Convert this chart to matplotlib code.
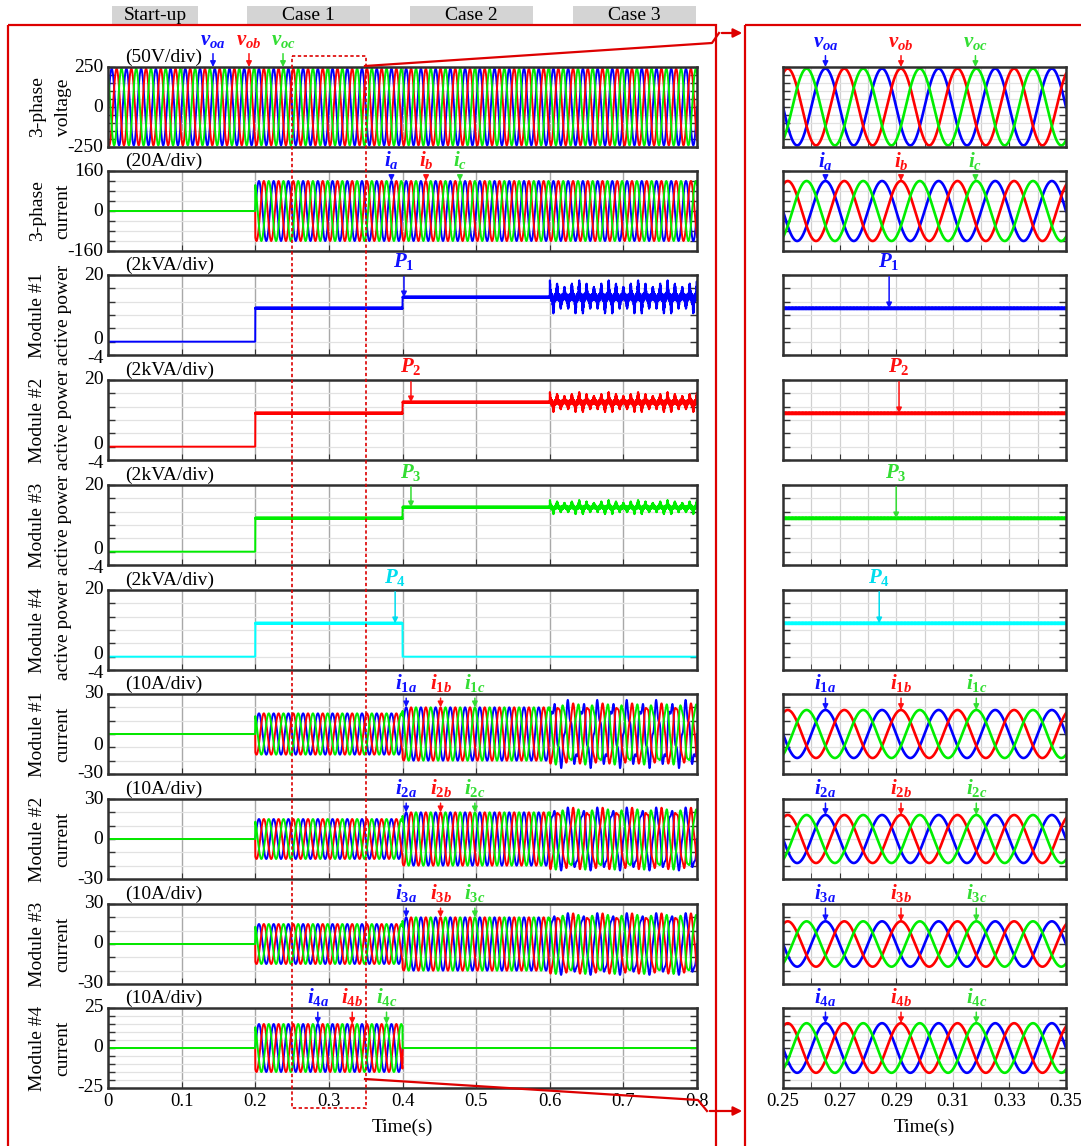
import numpy as np
import matplotlib
matplotlib.use('Agg')
import matplotlib.pyplot as plt
import matplotlib.transforms as mtransforms
from matplotlib.patches import Rectangle, FancyArrowPatch
from matplotlib.lines import Line2D

plt.rcParams['font.family'] = 'Liberation Serif'
plt.rcParams['mathtext.fontset'] = 'custom'
plt.rcParams['mathtext.it'] = 'Liberation Serif:italic:bold'
plt.rcParams['mathtext.rm'] = 'Liberation Serif:bold'
plt.rcParams['mathtext.bf'] = 'Liberation Serif:bold'
plt.rcParams['axes.unicode_minus'] = False

W, H = 1081, 1146

# ---- values ----
f_grid = 50.0                          # Hz
v_amp = 240.0                          # output phase voltage peak (V)
i_grid_amp = 120.0                     # 3-phase current peak after 0.2 s (A)
case_edges = [0.0, 0.2, 0.4, 0.6, 0.8]  # start-up, case 1, case 2, case 3
case_names = ['Start-up', 'Case 1', 'Case 2', 'Case 3']

# module active power (kVA) per interval
p_levels = [[0, 10, 13.3, 13.3],
            [0, 10, 13.3, 13.3],
            [0, 10, 13.3, 13.3],
            [0, 10, 0, 0]]
p_osc_case3 = [2.2, 1.3, 0.9, 0.0]     # 100 Hz oscillation in case 3
p_sw_ripple = [0.22, 0.22, 0.22, 0.2]  # switching ripple
p_sw_case3 = [0.9, 0.6, 0.45, 0.0]     # wider band in case 3
f_sw = 2000.0

# module current peak (A) per interval
i_mod_amp = [[0, 15.5, 20, 21],
             [0, 15, 20, 21],
             [0, 15, 20, 21],
             [0, 15, 0, 0]]
i_mod_dist = [[5, 2, 2], [3, 2.5, 2], [2.5, 2, 1.5], [0, 0, 0]]  # case 3 distortion a,b,c
f_dist = 175.0
i_zoom_amp = [18, 18, 17, 15.5]        # module current peaks in the zoomed window

panel_titles = [('3-phase', 'voltage'), ('3-phase', 'current'),
                ('Module #1', 'active power'), ('Module #2', 'active power'),
                ('Module #3', 'active power'), ('Module #4', 'active power'),
                ('Module #1', 'current'), ('Module #2', 'current'),
                ('Module #3', 'current'), ('Module #4', 'current')]
panel_scale = ['(50V/div)', '(20A/div)'] + ['(2kVA/div)'] * 4 + ['(10A/div)'] * 4
ylims = [(-250, 250), (-160, 160)] + [(-4, 20)] * 4 + [(-30, 30)] * 3 + [(-25, 25)]
ystep = [50, 40, 4, 4, 4, 4, 10, 10, 10, 5]
ylab_pos = [[250, 0, -250], [160, 0, -160]] + [[20, 0.7, -5.0]] * 4 + \
           [[30, -9, -30], [30, 0, -30], [30, 0, -30], [25, 0, -25]]
ylab_txt = [['250', '0', '-250'], ['160', '0', '-160']] + [['20', '0', '-4']] * 4 + \
           [['30', '0', '-30']] * 3 + [['25', '0', '-25']]
xt_left = [0, 0.1, 0.2, 0.3, 0.4, 0.5, 0.6, 0.7, 0.8]
xt_left_txt = ['0', '0.1', '0.2', '0.3', '0.4', '0.5', '0.6', '0.7', '0.8']
xt_right = [0.25, 0.27, 0.29, 0.31, 0.33, 0.35]
xt_right_txt = ['0.25', '0.27', '0.29', '0.31', '0.33', '0.35']

# label positions (time of arrow tip)
v_mark_l = [0.1426, 0.1915, 0.2377]
v_mark_r = [0.265, 0.2917, 0.318]
i_mark_l = [0.385, 0.432, 0.478]
i_mark_r = [0.265, 0.2917, 0.318]
p_mark_l = [0.402, 0.4115, 0.4115, 0.390]
p_mark_r = [0.2875, 0.291, 0.290, 0.284]
im_mark_l = [[0.405, 0.4517, 0.4983]] * 3 + [[0.285, 0.3317, 0.3783]]
im_mark_r = [0.265, 0.2917, 0.3183]

# ---- style ----
BLUE, RED, GREEN, CYAN = '#0000ff', '#ff0000', '#00ee00', '#00ffff'
LBL = ['#1010ff', '#ff1010', '#33dd33', '#00ddee']
FRAME_RED = '#dd0000'
panel_top = [67, 171, 275, 380, 485, 590, 694, 799, 904, 1008]
PH = 80

w = 2 * np.pi * f_grid
phase_shift = [0, -2 * np.pi / 3, 2 * np.pi / 3]


def interval_value(levels, tt):
    idx = np.clip(np.searchsorted(case_edges, tt, side='right') - 1, 0, len(levels) - 1)
    return np.asarray(levels, dtype=float)[idx]


def three_phase(amp, tt, dist=None):
    out = []
    for k, s in enumerate(phase_shift):
        y = amp * np.sin(w * tt + s)
        if dist is not None:
            y = y + (tt >= case_edges[3]) * dist[k] * np.sin(2 * np.pi * f_dist * tt + s)
        out.append(y)
    return out


def module_power(m, tt):
    lvl = interval_value(p_levels[m], tt)
    c3 = tt >= case_edges[3]
    band = np.where(c3, p_sw_case3[m], p_sw_ripple[m]) * (lvl > 0)
    sw = band * np.sin(2 * np.pi * f_sw * tt)
    osc = c3 * p_osc_case3[m] * (np.cos(2 * np.pi * 100 * tt) + 0.5 * np.cos(2 * np.pi * 300 * tt)) \
        * (1 + 0.3 * np.cos(2 * np.pi * 25 * tt))
    return lvl + sw + osc


def series(k, tt, zoom):
    if k == 0:
        return list(zip(three_phase(v_amp, tt), [BLUE, RED, GREEN]))
    if k == 1:
        return list(zip(three_phase(i_grid_amp * (tt >= 0.2), tt), [BLUE, RED, GREEN]))
    if k < 6:
        m = k - 2
        return [(module_power(m, tt), [BLUE, RED, GREEN, CYAN][m])]
    m = k - 6
    amp = i_zoom_amp[m] if zoom else interval_value(i_mod_amp[m], tt)
    return list(zip(three_phase(amp, tt, i_mod_dist[m]), [BLUE, RED, GREEN]))


def mark(ax, text, t0, y0, dy, color):
    ax.annotate(text, xy=(t0, y0), xycoords='data',
                xytext=(t0, 1 + dy / PH), textcoords=('data', 'axes fraction'),
                ha='center', va='center', fontsize=15, color=color, zorder=10,
                arrowprops=dict(arrowstyle='-|>', color=color, lw=1.1,
                                mutation_scale=8, shrinkA=1, shrinkB=0),
                annotation_clip=False)


fig = plt.figure(figsize=(W / 100, H / 100), dpi=100)
px = mtransforms.Affine2D().scale(1 / W, -1 / H).translate(0, 1) + fig.transFigure


def axes_px(x0, y0, wd, ht):
    return fig.add_axes([x0 / W, 1 - (y0 + ht) / H, wd / W, ht / H])


t = np.linspace(0, 0.8, 16001)
tz = np.linspace(0.25, 0.35, 2001)
left_axes, right_axes = [], []

for k in range(10):
    axl = axes_px(108, panel_top[k], 589, PH)
    axr = axes_px(783, panel_top[k], 283, PH)
    for ax, tt, zoom in [(axl, t, False), (axr, tz, True)]:
        for y, c in series(k, tt, zoom):
            ax.plot(tt, y, color=c, lw=1.4 if not zoom else 1.9)
        ax.set_ylim(*ylims[k])
        lo, hi = ylims[k]
        ax.set_yticks([])
        ax.set_yticks(np.arange(lo, hi + 0.01, ystep[k]), minor=True)
        ax.tick_params(axis='y', which='minor', direction='in', length=5, left=True, right=True,
                       width=1, color='#333333')
        ax.grid(axis='y', which='minor', color='#e2e2e2', lw=0.9)
        ax.tick_params(axis='x', which='both', direction='in', length=4, color='#333333', labelsize=13.5)
        ax.set_axisbelow(True)
        for sp in ax.spines.values():
            sp.set_color('#303030')
            sp.set_linewidth(1.8)
    ylab = mtransforms.blended_transform_factory(axl.transAxes, axl.transData)
    for yv, s in zip(ylab_pos[k], ylab_txt[k]):
        axl.text(-0.008, yv, s, transform=ylab, ha='right', va='center', fontsize=14, clip_on=False)
    axl.set_xlim(0, 0.8)
    axl.set_xticks(xt_left)
    axl.grid(axis='x', which='major', color='#a8a8a8', lw=1)
    axr.set_xlim(0.25, 0.35)
    axr.set_xticks(xt_right)
    axr.set_xticks(np.arange(0.25, 0.3501, 0.01), minor=True)
    axr.grid(axis='x', which='both', color='#d0d0d0', lw=0.9)
    if k == 9:
        axl.set_xticklabels(xt_left_txt)
        axr.set_xticklabels(xt_right_txt)
        axl.set_xlabel('Time(s)', fontsize=14, labelpad=6)
        axr.set_xlabel('Time(s)', fontsize=14, labelpad=6)
    else:
        axl.set_xticklabels([])
        axr.set_xticklabels([])
    axl.text(0.029, 1.01, panel_scale[k], transform=axl.transAxes, ha='left', va='bottom', fontsize=14)
    yc = panel_top[k] + PH / 2
    for xline, line in zip([38, 63], panel_titles[k]):
        fig.text(xline, yc, line, transform=px, rotation=90, ha='center', va='center', fontsize=14)
    left_axes.append(axl)
    right_axes.append(axr)

# ---- arrow labels ----
for j, nm in enumerate(['oa', 'ob', 'oc']):
    mark(left_axes[0], r'$v_{%s}$' % nm, v_mark_l[j], 250, 27, LBL[j])
    mark(right_axes[0], r'$v_{%s}$' % nm, v_mark_r[j], 250, 25, LBL[j])
for j, nm in enumerate(['a', 'b', 'c']):
    mark(left_axes[1], r'$i_{%s}$' % nm, i_mark_l[j], i_grid_amp, 11, LBL[j])
    mark(right_axes[1], r'$i_{%s}$' % nm, i_mark_r[j], i_grid_amp, 10, LBL[j])
for m in range(4):
    pl = interval_value(p_levels[m], np.array([p_mark_l[m]]))[0]
    mark(left_axes[2 + m], r'$P_{%d}$' % (m + 1), p_mark_l[m], pl, 13, LBL[m])
    pr = interval_value(p_levels[m], np.array([p_mark_r[m]]))[0]
    mark(right_axes[2 + m], r'$P_{%d}$' % (m + 1), p_mark_r[m], pr, 13, LBL[m])
for m in range(4):
    for j, ph in enumerate(['a', 'b', 'c']):
        amp_l = interval_value(i_mod_amp[m], np.array([im_mark_l[m][j]]))[0]
        mark(left_axes[6 + m], r'$i_{%d%s}$' % (m + 1, ph), im_mark_l[m][j], amp_l, 11, LBL[j])
        mark(right_axes[6 + m], r'$i_{%d%s}$' % (m + 1, ph), im_mark_r[j], i_zoom_amp[m], 11, LBL[j])

# ---- case header boxes ----
for name, (x0, x1) in zip(case_names, [(112, 198), (247, 370), (410, 533), (573, 696)]):
    fig.add_artist(Rectangle((x0, 6), x1 - x0, 18, transform=px, fc='#d4d4d4', ec='none'))
    fig.text((x0 + x1) / 2, 15, name, transform=px, ha='center', va='center', fontsize=14)

# ---- red frames, zoom window and arrows ----
fig.add_artist(Rectangle((8, 25), 708, 1140, transform=px, fill=False, ec=FRAME_RED, lw=1.6))
fig.add_artist(Rectangle((745, 25), 340, 1140, transform=px, fill=False, ec=FRAME_RED, lw=1.6))
win = mtransforms.blended_transform_factory(left_axes[9].transData, px)
fig.add_artist(Rectangle((0.25, 56), 0.1, 1052, transform=win, fill=False, ec=FRAME_RED,
                         lw=1.2, ls=(0, (2, 1.5))))
fig.add_artist(Line2D([365, 712, 719], [66, 43, 33], transform=px, color=FRAME_RED, lw=1.6))
fig.add_artist(FancyArrowPatch((719, 33), (745, 33), transform=px, arrowstyle='-|>',
                               mutation_scale=13, color=FRAME_RED, lw=1.6))
fig.add_artist(Line2D([365, 698, 707], [1079, 1100, 1111], transform=px, color=FRAME_RED, lw=1.6))
fig.add_artist(FancyArrowPatch((707, 1111), (745, 1111), transform=px, arrowstyle='-|>',
                               mutation_scale=13, color=FRAME_RED, lw=1.6))

fig.savefig('out.png', dpi=100)
